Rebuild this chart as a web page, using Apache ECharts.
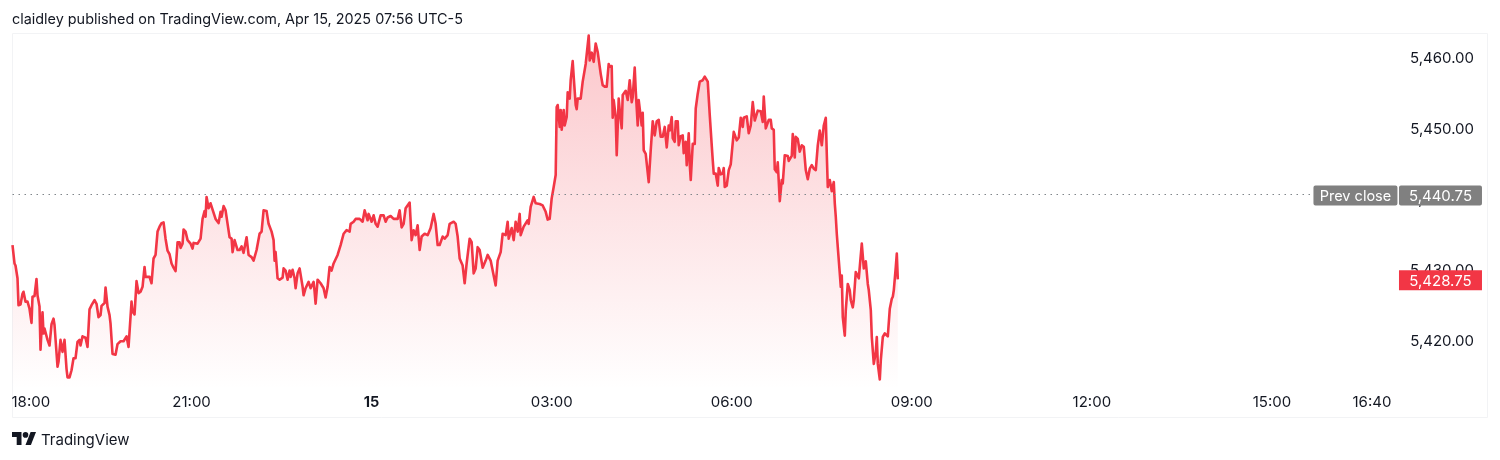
<!DOCTYPE html>
<html>
<head>
<meta charset="utf-8">
<style>html,body{margin:0;padding:0;background:#fff}#c{width:1500px;height:460px}</style>
<script src="https://cdn.jsdelivr.net/npm/echarts@6/dist/echarts.min.js"></script>
</head>
<body>
<div id="c"></div>
<script>
const headerText = "claidley published on TradingView.com, Apr 15, 2025 07:56 UTC-5";
const brandText = "TradingView";
const xTickMinutes = [0, 180, 360, 540, 720, 900, 1080, 1260, 1360];
const xTickLabels = ["18:00", "21:00", "15", "03:00", "06:00", "09:00", "12:00", "15:00", "16:40"];
const priceTicks = [5420, 5430, 5440, 5450, 5460];
const prevClose = 5440.75;
const lastPrice = 5428.75;
const minutes = [1,3,4,6,7,9,11,12,14,16,18,20,21,23,25,26,28,29,31,32,33,36,38,40,42,43,44,46,47,49,51,53,55,56,58,60,62,64,66,68,69,71,74,76,78,80,83,85,87,89,90,93,94,96,98,99,101,104,106,109,112,115,117,120,121,123,125,127,129,131,133,134,138,140,142,144,146,148,150,152,154,156,158,160,162,164,166,168,169,171,172,174,176,179,181,182,186,189,191,193,194,195,197,199,201,204,207,209,210,212,214,216,218,220,221,223,226,228,230,232,235,237,240,242,245,248,250,252,255,257,260,262,263,264,266,268,271,272,274,276,278,279,281,283,284,286,288,
289,291,292,294,297,299,302,303,304,306,309,312,314,316,317,318,320,322,326,329,332,335,338,339,342,344,348,351,353,356,357,360,362,364,366,369,372,374,376,379,382,386,388,390,392,394,398,400,402,404,406,408,410,413,416,419,422,424,426,428,431,433,436,438,442,444,446,448,451,453,455,458,460,462,464,466,468,471,474,476,479,482,484,486,489,491,494,496,497,500,502,504,506,508,509,512,516,517,519,522,524,528,531,534,536,538,
540,542,544,545,546,548,549,550,552,553,555,556,558,559,561,562,564,565,566,569,571,572,574,575,577,578,580,582,584,586,587,589,591,593,595,597,598,600,601,602,604,605,607,608,610,611,614,616,618,620,621,623,624,626,627,628,630,631,632,634,637,639,641,643,645,647,649,651,653,655,657,658,660,661,663,664,666,667,669,671,672,674,675,677,678,679,681,683,684,686,688,691,693,696,698,700,701,702,704,706,707,709,711,712,713,715,717,719,720,722,725,727,729,
731,732,735,737,739,741,743,746,749,751,752,754,757,759,760,762,763,765,766,768,770,771,773,776,777,780,781,783,784,786,788,790,792,794,796,798,800,802,804,806,808,810,812,814,815,816,818,820,822,823,824,825,826,828,829,830,831,833,834,836,838,839,841,842,844,847,850,852,854,856,857,859,860,862,864,865,866,868,869,871,873,876,878,880,881,882,884,885,886];
const prices = [5433.6,5431.0,5430.7,5428.9,5425.1,5425.2,5426.7,5427.0,5425.6,5425.6,5424.6,5422.6,5426.3,5426.4,5428.8,5426.5,5424.9,5418.8,5424.1,5421.1,5421.8,5420.2,5419.4,5422.4,5423.2,5422.3,5422.5,5416.4,5417.1,5420.2,5418.5,5420.2,5416.1,5414.9,5414.9,5415.9,5417.6,5417.6,5419.9,5420.2,5419.4,5420.7,5420.5,5419.2,5424.5,5425.1,5425.8,5425.3,5423.4,5423.7,5425.0,5425.4,5427.6,5424.9,5423.7,5422.5,5418.2,5418.1,5419.6,5420.0,5420.0,5420.7,5419.2,5425.6,5424.2,5423.8,5428.5,5426.8,5427.0,5427.7,5430.5,5429.1,5429.1,5428.2,5431.7,5432.2,5435.5,5436.2,5436.7,5436.8,5434.5,5432.8,5432.3,5431.0,5430.4,5429.9,5434.0,5434.0,5433.2,5433.8,5435.8,5435.5,5434.3,5433.8,5433.1,5433.9,5433.8,5434.5,5437.3,5438.4,5437.6,5440.4,5438.8,5439.5,5438.6,5437.3,5436.7,5438.3,5437.6,5439.1,5438.5,5436.6,5434.7,5434.5,5432.6,5434.3,5432.9,5432.9,5433.4,5432.5,5434.7,5432.2,5431.9,5431.4,5432.9,5435.2,5435.5,5438.5,5438.4,5436.6,5435.5,5434.3,5431.4,5432.6,5428.9,5428.7,5429.0,5430.3,5430.0,5428.7,5430.0,5429.1,5430.1,5428.9,5427.5,5429.6,5430.3,
5430.1,5427.7,5426.5,5427.5,5428.4,5427.5,5428.4,5427.0,5425.3,5428.7,5428.2,5427.5,5426.2,5427.7,5427.5,5430.5,5430.0,5431.0,5432.2,5433.6,5435.2,5435.7,5435.5,5436.6,5436.9,5437.3,5437.3,5436.9,5438.5,5437.1,5438.0,5436.9,5437.8,5436.6,5436.2,5437.8,5437.8,5436.9,5437.5,5437.7,5437.3,5437.3,5438.5,5436.1,5436.6,5438.8,5439.6,5434.3,5435.7,5435.0,5436.4,5432.9,5434.8,5435.2,5435.0,5436.0,5438.0,5436.6,5433.6,5433.6,5434.8,5434.5,5435.0,5436.6,5436.9,5436.6,5434.8,5431.7,5430.7,5428.2,5431.0,5434.5,5434.0,5429.6,5430.3,5433.3,5432.9,5430.4,5431.4,5432.2,5431.4,5429.3,5427.9,5431.4,5432.6,5435.2,5435.0,5436.9,5434.5,5436.0,5434.3,5436.9,5435.5,5438.0,5435.0,5436.2,5437.1,5436.6,5439.0,5440.4,5439.5,5439.4,5439.2,5438.3,5437.2,5437.3,
5440.2,5441.8,5443.5,5453.1,5453.4,5450.3,5452.7,5449.9,5452.7,5450.5,5451.7,5455.2,5454.3,5456.9,5459.6,5457.4,5453.4,5452.8,5454.3,5454.3,5456.7,5456.9,5459.2,5459.2,5463.2,5459.7,5460.8,5459.5,5462.1,5460.9,5461.0,5457.8,5456.2,5456.0,5456.0,5459.2,5458.8,5458.9,5451.6,5454.1,5451.7,5446.3,5454.3,5452.7,5450.1,5454.8,5455.4,5454.1,5456.9,5453.8,5454.5,5458.7,5455.5,5450.5,5454.1,5454.1,5450.5,5452.3,5447.0,5446.5,5442.5,5447.0,5451.1,5449.1,5451.1,5451.3,5448.9,5448.9,5450.3,5447.4,5450.5,5449.8,5451.7,5448.7,5448.2,5451.1,5451.1,5447.7,5449.0,5449.1,5446.6,5448.2,5444.9,5449.4,5445.1,5442.8,5447.9,5447.9,5452.9,5455.0,5456.7,5456.9,5457.4,5456.7,5452.0,5447.7,5445.6,5443.7,5443.7,5442.0,5444.5,5443.6,5443.7,5444.5,5441.8,5442.0,5444.2,5445.0,5445.2,5449.6,5448.4,5448.8,5451.6,
5450.3,5451.6,5451.8,5449.4,5450.5,5453.8,5451.2,5452.6,5452.5,5451.0,5454.6,5450.1,5451.3,5451.3,5450.1,5449.9,5444.3,5443.9,5445.3,5439.8,5442.8,5442.3,5446.3,5446.2,5445.5,5446.2,5449.3,5446.0,5448.9,5448.6,5446.8,5447.7,5447.5,5444.2,5442.9,5444.4,5444.9,5444.4,5444.2,5447.7,5449.8,5447.7,5450.5,5451.6,5446.5,5441.8,5442.8,5441.2,5442.5,5439.5,5437.6,5435.2,5433.3,5429.6,5427.7,5429.3,5423.4,5420.8,5424.4,5428.1,5427.2,5425.8,5424.8,5425.8,5429.8,5428.9,5433.8,5430.3,5431.3,5428.1,5427.2,5424.4,5420.6,5416.8,5418.5,5420.6,5416.8,5414.6,5417.3,5420.6,5421.1,5420.7,5424.6,5426.0,5426.3,5427.2,5430.5,5432.4,5428.75];

const fontFam = 'Inter, "Noto Sans", sans-serif';
const fmtPrice = v => v.toLocaleString('en-US', {minimumFractionDigits: 2, maximumFractionDigits: 2});
const points = minutes.map((m, i) => [m, prices[i]]);
const tagRound = 'path://M2 0H82a2 2 0 0 1 2 2V18a2 2 0 0 1-2 2H2a2 2 0 0 1-2-2V2a2 2 0 0 1 2-2z';

const chart = echarts.init(document.getElementById('c'), null, {renderer: 'canvas'});
chart.setOption({
  animation: false,
  backgroundColor: '#ffffff',
  textStyle: {fontFamily: fontFam},
  title: [
    {text: headerText, left: 12, top: 13, padding: 0, textStyle: {fontFamily: fontFam, fontSize: 14.4, fontWeight: 400, color: '#131722'}},
    {text: brandText, left: 41, top: 433, padding: 0, textStyle: {fontFamily: fontFam, fontSize: 15, fontWeight: 400, color: '#131722'}}
  ],
  graphic: [
    {type: 'rect', z: -1, shape: {x: 12.5, y: 33.5, width: 1475, height: 384}, style: {fill: 'none', stroke: '#f2f3f5', lineWidth: 1}, silent: true},
    {type: 'polygon', silent: true, shape: {points: [[12,432],[21.5,432],[21.5,445],[16.7,445],[16.7,437],[12,437]]}, style: {fill: '#131722'}},
    {type: 'polygon', silent: true, shape: {points: [[30.9,445],[25.5,445],[30.6,432],[36,432]]}, style: {fill: '#131722'}},
    {type: 'circle', silent: true, shape: {cx: 25.5, cy: 434.9, r: 2.8}, style: {fill: '#131722'}}
  ],
  grid: {left: 11.5, right: 12, top: 30, bottom: 48, containLabel: false},
  xAxis: {
    type: 'value', min: 0, max: 1476, position: 'bottom',
    axisLine: {show: false}, axisTick: {show: false}, splitLine: {show: false},
    axisLabel: {
      inside: true, margin: 2, fontSize: 15, color: '#131722', fontFamily: fontFam,
      customValues: xTickMinutes, alignMinLabel: 'left',
      formatter: v => {
        const s = xTickLabels[xTickMinutes.indexOf(v)];
        return s === '15' ? '{b|15}' : s;
      },
      rich: {b: {fontWeight: 700, fontSize: 14.5, color: '#131722', fontFamily: fontFam}}
    }
  },
  yAxis: {
    type: 'value', min: 5410, max: 5464, position: 'right',
    axisLine: {show: false}, axisTick: {show: false}, splitLine: {show: false},
    axisLabel: {
      inside: true, margin: 14, fontSize: 15, color: '#131722', fontFamily: fontFam,
      padding: [2, 0, 0, 0],
      customValues: priceTicks, formatter: v => fmtPrice(v)
    }
  },
  series: [{
    type: 'line', data: points, showSymbol: false, symbol: 'none', silent: true,
    lineStyle: {color: '#f23645', width: 2.6, join: 'round'},
    itemStyle: {color: '#f23645'},
    areaStyle: {
      opacity: 1,
      color: new echarts.graphic.LinearGradient(0, 0, 0, 1, [
        {offset: 0, color: 'rgba(242,54,69,0.28)'},
        {offset: 0.94, color: 'rgba(242,54,69,0)'},
        {offset: 1, color: 'rgba(242,54,69,0)'}
      ])
    },
    markLine: {
      silent: true, symbol: 'none', animation: false,
      label: {show: false},
      lineStyle: {color: '#80868b', type: [1.5, 4.5], width: 1},
      data: [[{coord: [1, prevClose]}, {coord: [1302, prevClose]}]]
    },
    markPoint: {
      silent: true, animation: false,
      data: [
        {coord: [1343.5, prevClose], symbol: tagRound, symbolKeepAspect: false, symbolSize: [84, 20], symbolOffset: [0, 1],
         itemStyle: {color: '#808080'},
         label: {show: true, position: 'inside', offset: [0, 1], formatter: 'Prev close', color: '#fff', fontSize: 14.5, fontFamily: fontFam}},
        {coord: [1428.5, prevClose], symbol: tagRound, symbolKeepAspect: false, symbolSize: [83, 20], symbolOffset: [0, 1],
         itemStyle: {color: '#808080'},
         label: {show: true, position: 'inside', offset: [0, 1], formatter: () => fmtPrice(prevClose), color: '#fff', fontSize: 15, fontFamily: fontFam}},
        {coord: [1428.5, lastPrice], symbol: 'rect', symbolSize: [83, 20], symbolOffset: [0, 1],
         itemStyle: {color: '#f23645'},
         label: {show: true, position: 'inside', offset: [0, 1], formatter: () => fmtPrice(lastPrice), color: '#fff', fontSize: 15, fontFamily: fontFam}}
      ]
    }
  }]
});
</script>
</body>
</html>
